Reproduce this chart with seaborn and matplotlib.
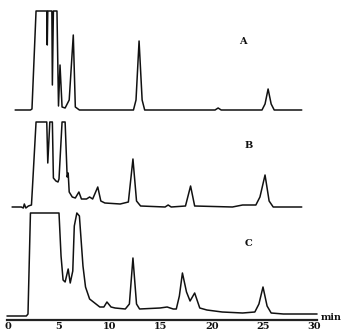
import numpy as np
import pandas as pd
import matplotlib
matplotlib.use("Agg")
import matplotlib.pyplot as plt
import seaborn as sns

# ---- data (time in min, signal height in arbitrary units) ----
time_a = [0.7, 2.2, 2.35, 2.75, 3.8, 3.85, 3.9, 4.3, 4.35, 4.45, 4.8, 4.95, 5.1, 5.3, 5.6,
          6.0, 6.4, 6.6, 7.0, 12.3, 12.55, 12.85, 13.15, 13.4, 20.3, 20.6, 20.9, 24.9,
          25.2, 25.5, 25.8, 26.1, 28.8]
signal_a = [0, 0, 1, 99, 99, 65, 99, 99, 25, 99, 99, 4, 45, 3, 2,
            10, 75, 3, 0, 0, 10, 69, 10, 0, 0, 2, 0, 0,
            6, 21, 6, 0, 0]

time_b = [0.4, 1.3, 1.5, 1.6, 1.75, 2.0, 2.3, 2.4, 2.75, 3.8, 3.9, 4.1, 4.35, 4.45, 4.7,
          4.9, 5.0, 5.3, 5.6, 5.8, 5.9, 6.0, 6.3, 6.6, 6.95, 7.2, 7.7, 8.0, 8.3, 8.8,
          9.1, 9.5, 11.0, 11.8, 12.25, 12.6, 13.0, 15.4, 15.7, 16.0, 17.4, 17.9, 18.3,
          22.0, 23.0, 24.3, 24.7, 25.2, 25.6, 26.0, 28.8]
signal_b = [0, 0, -1, 3, -1, 1, 2, 20, 85, 85, 44, 85, 85, 29, 26,
            25, 28, 85, 85, 30, 34, 15, 10, 9, 15, 8, 8, 10, 8, 20,
            6, 4, 3, 5, 48, 6, 1, 0, 2, 0, 1, 21, 1,
            0, 2, 2, 10, 32, 6, 0, 0]

time_c = [-0.1, 1.8, 1.96, 2.2, 5.0, 5.2, 5.4, 5.6, 5.9, 6.1, 6.35, 6.5, 6.75, 7.0, 7.35,
          7.6, 8.0, 9.0, 9.4, 9.7, 10.1, 10.5, 11.5, 11.9, 12.25, 12.6, 12.9, 14.9, 15.6,
          16.2, 16.5, 16.8, 17.1, 17.5, 17.85, 18.3, 18.8, 19.5, 21.0, 23.0, 24.2, 24.6,
          25.0, 25.4, 25.8, 27.0, 30.3]
signal_c = [0, 0, 2, 103, 103, 60, 36, 34, 47, 33, 45, 90, 103, 100, 50,
            29, 17, 9, 9, 14, 9, 8, 7, 12, 58, 12, 7, 8, 9,
            7, 7, 20, 43, 24, 15, 23, 8, 6, 4, 3, 4, 12,
            29, 10, 3, 2, 2]

trace_labels = ["A", "B", "C"]
tick_values = [0, 5, 10, 15, 20, 25, 30]
axis_unit = "min"

# ---- layout (offsets for stacking the traces) ----
offsets = [223, 126, 17]
label_pos = [(23.0, 292), (23.6, 187), (23.6, 90)]

sns.set_style("white")
plt.rcParams["font.family"] = ["DejaVu Serif"]

fig = plt.figure(figsize=(3.5, 3.33), dpi=100)
ax = fig.add_axes([0, 0, 1, 1])

traces = [(time_a, signal_a), (time_b, signal_b), (time_c, signal_c)]
for (t, s), off, lab, (lx, ly) in zip(traces, offsets, trace_labels, label_pos):
    df = pd.DataFrame({"t": t, "y": np.array(s, dtype=float) + off})
    sns.lineplot(data=df, x="t", y="y", ax=ax, color="#111111", linewidth=1.1,
                 estimator=None, sort=False, legend=False)
    ax.text(lx, ly, lab, fontsize=7, fontweight="bold", ha="center", va="center",
            color="#111111")

ax.set_xlim(-8 / 10.2, (350 - 8) / 10.2)
ax.set_ylim(0, 333)
for side in ["top", "right", "left"]:
    ax.spines[side].set_visible(False)
ax.spines["bottom"].set_position(("data", 13))
ax.spines["bottom"].set_bounds(-0.1, 30.3)
ax.spines["bottom"].set_linewidth(1.6)
ax.spines["bottom"].set_color("#222222")
ax.set_xticks(tick_values)
ax.set_xticklabels([str(v) for v in tick_values], fontsize=7, fontweight="bold")
ax.tick_params(axis="x", length=0, pad=1.5, colors="#111111")
ax.set_yticks([])
ax.set_xlabel("")
ax.set_ylabel("")
ax.text(31.7, 15.5, axis_unit, fontsize=7, fontweight="bold", ha="center",
        va="center", color="#111111")

fig.savefig("out.png", dpi=100, facecolor="white")
